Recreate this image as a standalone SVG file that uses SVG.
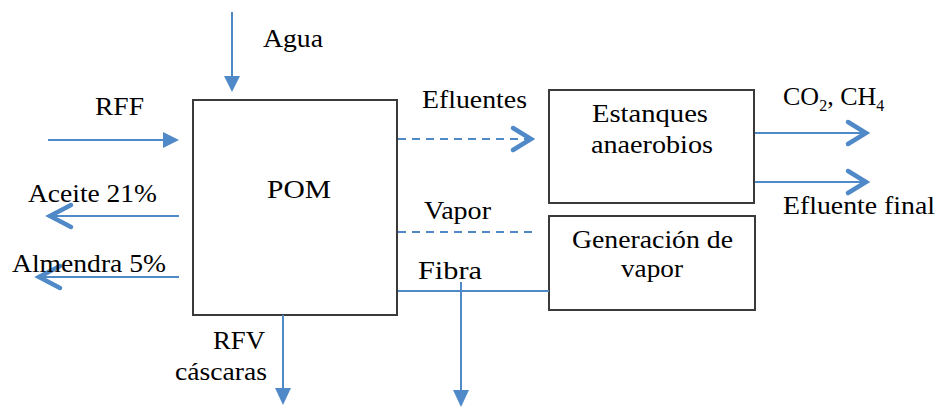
<svg xmlns="http://www.w3.org/2000/svg" width="937" height="410" viewBox="0 0 937 410">
<defs>
<style>
.box{fill:#fff;stroke:#3a3a3a;stroke-width:2}
.ln{stroke:#4f89c8;stroke-width:2;fill:none}
.dash{stroke-dasharray:8 6}
.chev{stroke:#4f89c8;stroke-width:4.5;fill:none;stroke-linecap:round;stroke-linejoin:miter}
.tri{fill:#4f89c8}
</style>
</defs>
<rect width="937" height="410" fill="#fff"/>
<g id="pom">
<rect class="box" x="193" y="100" width="204" height="215"/>
<text x="267" y="198" font-family="Liberation Serif" font-size="25" textLength="64" lengthAdjust="spacingAndGlyphs">POM</text>
</g>
<g id="estanques">
<rect class="box" x="549" y="90" width="205" height="113"/>
<text x="592" y="122" font-family="Liberation Serif" font-size="25" textLength="116" lengthAdjust="spacingAndGlyphs">Estanques</text>
<text x="591" y="153" font-family="Liberation Serif" font-size="25" textLength="122" lengthAdjust="spacingAndGlyphs">anaerobios</text>
</g>
<g id="generacion">
<rect class="box" x="549" y="216" width="206" height="94"/>
<text x="572" y="248" font-family="Liberation Serif" font-size="25" textLength="161" lengthAdjust="spacingAndGlyphs">Generación de</text>
<text x="621" y="277" font-family="Liberation Serif" font-size="25" textLength="62" lengthAdjust="spacingAndGlyphs">vapor</text>
</g>
<g id="connectors">
<line class="ln" x1="232" y1="12" x2="232" y2="78"/>
<polygon class="tri" points="224,76 240,76 232,92"/>
<line class="ln" x1="48" y1="140" x2="165" y2="140"/>
<polygon class="tri" points="163,132 163,148 179,140"/>
<line class="ln" x1="52" y1="216" x2="179" y2="216"/>
<polyline class="chev" points="71,205 50,216 71,227"/>
<line class="ln" x1="41" y1="277" x2="179" y2="277"/>
<polyline class="chev" points="60,266 39,277 60,288"/>
<line class="ln" x1="283" y1="315" x2="283" y2="390"/>
<polygon class="tri" points="275,388 291,388 283,405"/>
<line class="ln dash" x1="398" y1="139" x2="528" y2="139"/>
<polyline class="chev" points="513,128 531,139 513,150"/>
<line class="ln" x1="755" y1="133" x2="864" y2="133"/>
<polyline class="chev" points="848,122 866,133 848,144"/>
<line class="ln" x1="755" y1="182" x2="864" y2="182"/>
<polyline class="chev" points="848,171 866,182 848,193"/>
<line class="ln dash" x1="398" y1="232" x2="534" y2="232"/>
<line class="ln" x1="398" y1="291" x2="549" y2="291"/>
<line class="ln" x1="461" y1="282" x2="461" y2="392"/>
<polygon class="tri" points="453,390 469,390 461,407"/>
</g>
<g id="labels">
<text x="263" y="47" font-family="Liberation Serif" font-size="25" textLength="60" lengthAdjust="spacingAndGlyphs">Agua</text>
<text x="95" y="115" font-family="Liberation Serif" font-size="25" textLength="49" lengthAdjust="spacingAndGlyphs">RFF</text>
<text x="28" y="202" font-family="Liberation Serif" font-size="25" textLength="129" lengthAdjust="spacingAndGlyphs">Aceite 21%</text>
<text x="12" y="272" font-family="Liberation Serif" font-size="25" textLength="154" lengthAdjust="spacingAndGlyphs">Almendra 5%</text>
<text x="213" y="349" font-family="Liberation Serif" font-size="25" textLength="52" lengthAdjust="spacingAndGlyphs">RFV</text>
<text x="175" y="380" font-family="Liberation Serif" font-size="25" textLength="92" lengthAdjust="spacingAndGlyphs">cáscaras</text>
<text x="422" y="108" font-family="Liberation Serif" font-size="25" textLength="105" lengthAdjust="spacingAndGlyphs">Efluentes</text>
<text x="424" y="219" font-family="Liberation Serif" font-size="25" textLength="67" lengthAdjust="spacingAndGlyphs">Vapor</text>
<text x="418" y="279" font-family="Liberation Serif" font-size="25" textLength="64" lengthAdjust="spacingAndGlyphs">Fibra</text>
<text x="783" y="105" font-family="Liberation Serif" font-size="26">CO<tspan font-size="16" dy="6">2</tspan><tspan dy="-6">, CH</tspan><tspan font-size="16" dy="6">4</tspan></text>
<text x="783" y="214" font-family="Liberation Serif" font-size="25" textLength="152" lengthAdjust="spacingAndGlyphs">Efluente final</text>
</g>
</svg>
